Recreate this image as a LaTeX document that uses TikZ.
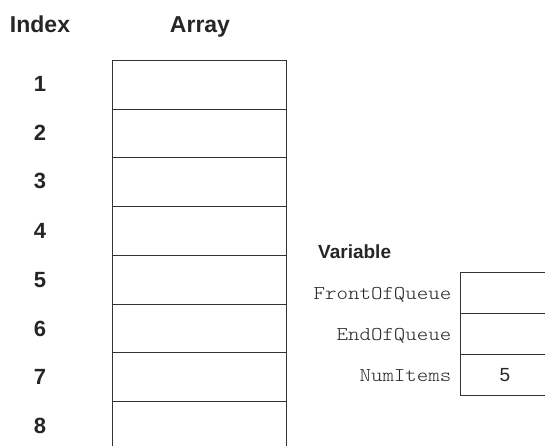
\documentclass[tikz,border=0pt]{standalone}
\usepackage{fontspec}
\setmainfont{Liberation Sans}
\newfontfamily\courfont{Latin Modern Mono Light}[FakeStretch=1.12]
\begin{document}
\begin{tikzpicture}[x=1pt,y=-1pt,
  cell/.style={draw=black!80,line width=1.8pt,minimum width=174pt,inner sep=0pt,outer sep=0pt},
  vcell/.style={draw=black!80,line width=1.8pt,minimum width=120pt,minimum height=41pt,inner sep=0pt,outer sep=0pt,anchor=north west},
  head/.style={text=black!85,font=\fontsize{23}{23}\selectfont\bfseries,inner sep=0pt,anchor=base},
  idx/.style={text=black!85,font=\fontsize{22}{22}\selectfont\bfseries,inner sep=0pt,anchor=base},
  var/.style={text=black!85,font=\fontsize{19.5}{19.5}\selectfont\courfont,inner sep=0pt,anchor=base east},
  val/.style={text=black!85,font=\fontsize{19}{19}\selectfont,inner sep=0pt,anchor=base}]
\useasboundingbox (0,0) rectangle (545,446);
\clip (0,0) rectangle (545,446);
\fill[white] (0,0) rectangle (545,446);
\node[head] (hidx) at (40,32.3) {Index};
\node[head] (harr) at (200,32.3) {Array};
\foreach \i/\t/\b in {1/60.5/109.5,2/109.5/157.5,3/157.5/206.5,4/206.5/255.5,5/255.5/304.5,6/304.5/352.5,7/352.5/401.5,8/401.5/450.5}{
  \node[cell,minimum height={\b-\t},anchor=north west] (c\i) at (112.5,\t) {};
  \node[idx] (n\i) at (40,{\t+31.5}) {\i};
}
\node[text=black!85,font=\fontsize{19}{19}\selectfont\bfseries,inner sep=0pt,anchor=base west] (hvar) at (318,258.3) {Variable};
\node[vcell] (v1) at (460.5,272.5) {};
\node[vcell] (v2) at (460.5,313.5) {};
\node[vcell] (v3) at (460.5,354.5) {};
\node[var] (l1) at (451.5,299) {FrontOfQueue};
\node[var] (l2) at (451.5,340) {EndOfQueue};
\node[var] (l3) at (451.5,381) {NumItems};
\node[val] (five) at (505,381.5) {5};
\end{tikzpicture}
\end{document}
